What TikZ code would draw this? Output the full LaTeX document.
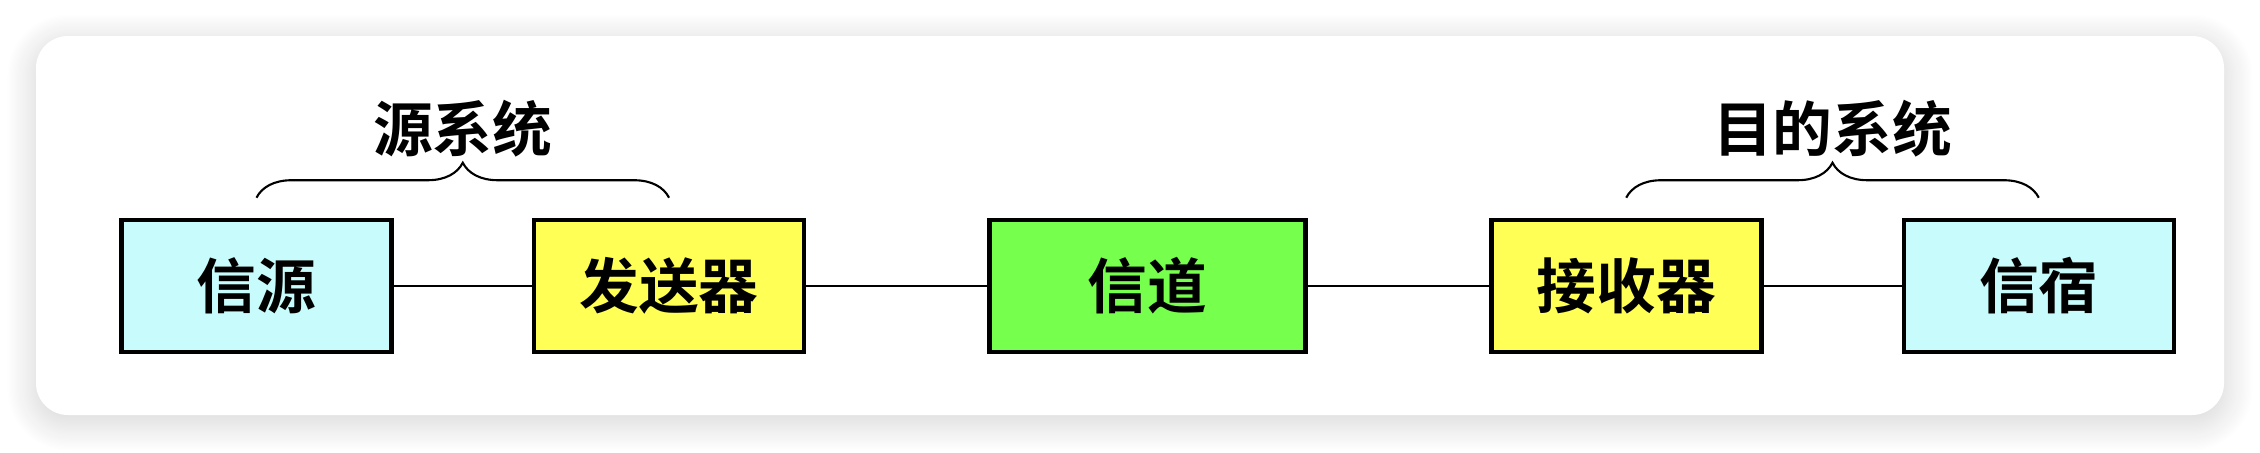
\documentclass[tikz,border=0pt]{standalone}
\usepackage{fontspec}
\newfontfamily\cjk{Noto Sans CJK SC}[BoldFont={Noto Sans CJK SC Bold}]
\usetikzlibrary{positioning,decorations.pathreplacing,shadows.blur}
\definecolor{endfill}{HTML}{C8FCFC}
\definecolor{devfill}{HTML}{FFFF55}
\definecolor{chanfill}{HTML}{77FF4D}

\tikzset{
  unit/.style={draw, line width=1.3pt, minimum width=2.70cm, minimum height=1.32cm,
    font=\cjk\bfseries\fontsize{17}{20}\selectfont},
  sysbrace/.style={decorate, decoration={brace, amplitude=0.35cm}, line width=0.6pt},
}

\begin{document}
\begin{tikzpicture}
  \useasboundingbox (0,0) rectangle (22.6,-4.52);
  \fill[white, rounded corners=0.32cm,
    blur shadow={shadow xshift=0pt, shadow yshift=-2pt, shadow blur radius=0.3cm,
      shadow blur steps=25, shadow opacity=18}]
    (0.36,-0.36) rectangle (22.24,-4.15);

  \node[unit, fill=endfill] (src) at (2.565,-2.86) {信源};
  \node[unit, fill=devfill, right=1.38cm of src] (tx) {发送器};
  \node[unit, fill=chanfill, minimum width=3.16cm, right=1.81cm of tx] (chan) {信道};
  \node[unit, fill=devfill, right=1.81cm of chan] (rx) {接收器};
  \node[unit, fill=endfill, right=1.38cm of rx] (dst) {信宿};

  \draw[line width=0.6pt] (src) -- (tx) (tx) -- (chan) (chan) -- (rx) (rx) -- (dst);

  % systems
  \draw[sysbrace] ([yshift=0.2cm]src.north) -- ([yshift=0.2cm]tx.north)
    node[midway, yshift=0.69cm, font=\cjk\bfseries\fontsize{17}{20}\selectfont] (srcsys) {源系统};
  \draw[sysbrace] ([yshift=0.2cm]rx.north) -- ([yshift=0.2cm]dst.north)
    node[midway, yshift=0.69cm, font=\cjk\bfseries\fontsize{17}{20}\selectfont] (dstsys) {目的系统};
\end{tikzpicture}
\end{document}
